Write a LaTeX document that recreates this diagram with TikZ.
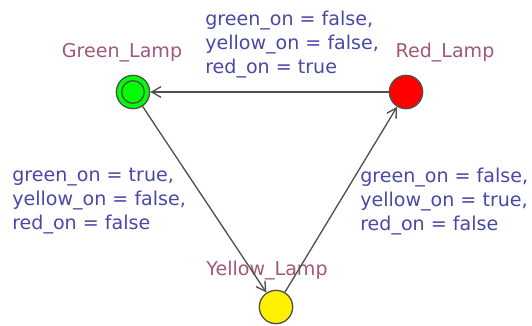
\documentclass[tikz,border=0pt]{standalone}
\usepackage{fontspec}
\setmainfont{DejaVu Sans}
\usetikzlibrary{arrows.meta}
\definecolor{lampname}{HTML}{A0587A}
\definecolor{update}{HTML}{4848A8}
\definecolor{edge}{HTML}{505050}

\tikzset{
  lamp/.style={circle,draw=edge,line width=1pt,minimum size=25pt,inner sep=0pt},
  lampname/.style={font=\fontsize{14.3}{17}\selectfont,text=lampname},
  update/.style={font=\fontsize{14.3}{18}\selectfont,text=update,align=left,anchor=north west,inner sep=0pt},
  trans/.style={edge,line width=1pt,-{Straight Barb[length=7pt,width=8pt]}}
}

\begin{document}
\begin{tikzpicture}[x=0.75pt,y=-0.75pt]
  \useasboundingbox (0,0) rectangle (532,325);

  % Locations
  \node[lamp,fill=green] (green) at (133,92) {};
  \draw[edge,line width=1pt] (green) circle[radius=8.5pt];
  \node[lamp,fill=red] (red) at (406,92) {};
  \node[lamp,fill=yellow] (yellow) at (276,307) {};

  % Location names
  \node[lampname] (greenname) at (122,53) {Green\_Lamp};
  \node[lampname] (redname) at (445,53) {Red\_Lamp};
  \node[lampname] (yellowname) at (267,271) {Yellow\_Lamp};

  % Transitions
  \draw[trans] (red) -- (green);
  \draw[trans] (green) -- (yellow);
  \draw[trans] (yellow) -- (red);

  % Updates
  \node[update] (toGreen) at (205,11) {green\_on = false,\\yellow\_on = false,\\red\_on = true};
  \node[update] (toYellow) at (12,168) {green\_on = true,\\yellow\_on = false,\\red\_on = false};
  \node[update] (toRed) at (360,168) {green\_on = false,\\yellow\_on = true,\\red\_on = false};
\end{tikzpicture}
\end{document}
